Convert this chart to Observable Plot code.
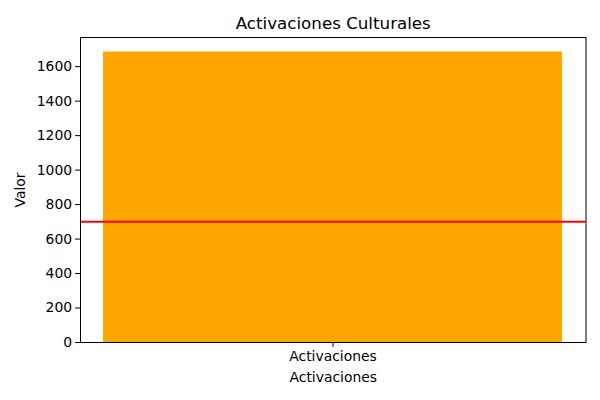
<!DOCTYPE html>
<html>
<head>
<meta charset="utf-8">
<script src="https://cdn.jsdelivr.net/npm/d3@7"></script>
<script src="https://cdn.jsdelivr.net/npm/@observablehq/plot@0.6"></script>
<style>
  html, body { margin: 0; padding: 0; background: #fff; }
  #chart svg { display: block; }
</style>
</head>
<body>
<div id="chart"></div>
<script>
const categories = ["Activaciones"];
const values = [1685];
const referenceValue = [700];
const yTicks = [0, 200, 400, 600, 800, 1000, 1200, 1400, 1600];
const titleText = "Activaciones Culturales";
const xLabel = "Activaciones";
const yLabel = "Valor";

const data = categories.map((c, i) => ({category: c, value: values[i]}));

const font = "DejaVu Sans, sans-serif";
const chart = Plot.plot({
  width: 600,
  height: 400,
  marginLeft: 80,
  marginRight: 14.5,
  marginTop: 37,
  marginBottom: 58,
  style: {fontFamily: font, color: "black", background: "white"},
  x: {domain: categories, paddingInner: 0, paddingOuter: 0.05},
  y: {domain: [0, values[0] * 1.05]},
  marks: [
    Plot.barY(data, {x: "category", y: "value", fill: "orange"}),
    Plot.ruleY(referenceValue, {stroke: "red", strokeWidth: 2}),
    Plot.frame({stroke: "black", strokeWidth: 1}),
    Plot.axisY({ticks: yTicks, tickFormat: "d", tickSize: 4.9, tickPadding: 3.5, fontSize: 13.9,
      label: yLabel, labelAnchor: "center", labelArrow: "none", labelOffset: 65}),
    Plot.axisX({tickSize: 4.9, tickPadding: 3.5, fontSize: 13.9,
      label: xLabel, labelAnchor: "center", labelArrow: "none", labelOffset: 39}),
    Plot.text([titleText], {frameAnchor: "top", dy: -20, fontSize: 16.7, fill: "black"})
  ]
});
document.getElementById("chart").appendChild(chart);
</script>
</body>
</html>
